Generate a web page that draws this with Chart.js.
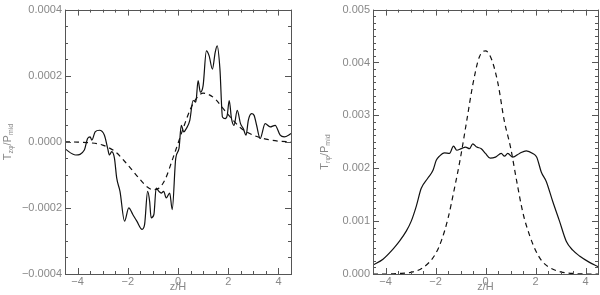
<!DOCTYPE html>
<html>
<head>
<meta charset="utf-8">
<script src="https://cdn.jsdelivr.net/npm/chart.js@4"></script>
<style>
  body { margin: 0; background: #fff; }
  #wrap { position: relative; width: 600px; height: 295px; }
  canvas { position: absolute; top: 0; }
</style>
</head>
<body>
<div id="wrap">
  <canvas id="left" width="300" height="295" style="left:0"></canvas>
  <canvas id="right" width="300" height="295" style="left:300px"></canvas>
</div>
<script>
// left panel: T_zphi / P_mid
const zLeftSolid = [-4.53, -4.07, -3.73, -3.6, -3.5, -3.43, -3.3, -3.13, -2.93, -2.8, -2.73, -2.64, -2.53, -2.44, -2.31, -2.13,
  -1.96, -1.8, -1.64, -1.43, -1.33, -1.21, -1.13, -1.07, -0.96, -0.87, -0.76, -0.67, -0.57, -0.47, -0.33, -0.23, -0.09,
  0.04, 0.13, 0.23, 0.33, 0.47, 0.6, 0.71, 0.8, 0.89, 1.0, 1.13, 1.24, 1.37, 1.48, 1.56, 1.67, 1.77, 1.88, 1.96, 2.04,
  2.13, 2.23, 2.36, 2.49, 2.6, 2.71, 2.8, 2.93, 3.03, 3.13, 3.27, 3.47, 3.67, 3.87, 4.07, 4.23, 4.51];
const leftSolid = [-0.2e-4, -0.4e-4, -0.25e-4, 0.1e-4, 0.15e-4, 0.05e-4, 0.3e-4, 0.35e-4, 0.2e-4, -0.2e-4, -0.4e-4, -0.3e-4,
  -0.5e-4, -1.1e-4, -1.5e-4, -2.4e-4, -2.0e-4, -2.2e-4, -2.4e-4, -2.65e-4, -2.5e-4, -1.5e-4, -1.8e-4, -2.3e-4, -2.2e-4,
  -1.4e-4, -1.5e-4, -1.55e-4, -1.5e-4, -1.7e-4, -1.55e-4, -2.05e-4, -0.5e-4, -0.2e-4, 0.5e-4, 0.3e-4, 0.4e-4, 0.65e-4,
  1.25e-4, 1.2e-4, 1.85e-4, 1.5e-4, 1.7e-4, 2.75e-4, 2.6e-4, 2.2e-4, 2.7e-4, 2.9e-4, 2.2e-4, 0.75e-4, 0.7e-4, 0.8e-4,
  1.25e-4, 0.7e-4, 0.5e-4, 0.95e-4, 0.55e-4, 0.4e-4, 0.2e-4, 0.65e-4, 0.85e-4, 0.8e-4, 0.5e-4, 0.1e-4, 0.55e-4, 0.45e-4,
  0.5e-4, 0.2e-4, 0.15e-4, 0.25e-4];
const zLeftDashed = [-4.5, -4, -3.5, -3, -2.5, -2, -1.5, -1.25, -1, -0.75, -0.5, -0.25, 0, 0.25, 0.5, 0.75, 1, 1.25, 1.5,
  1.75, 2, 2.5, 3, 3.5, 4, 4.5];
const leftDashed = [0, -0.01e-4, -0.03e-4, -0.1e-4, -0.3e-4, -0.7e-4, -1.15e-4, -1.35e-4, -1.45e-4, -1.4e-4, -1.12e-4,
  -0.6e-4, -0.05e-4, 0.5e-4, 1.0e-4, 1.33e-4, 1.47e-4, 1.42e-4, 1.28e-4, 1.05e-4, 0.82e-4, 0.42e-4, 0.2e-4, 0.08e-4,
  0.02e-4, 0];

// right panel: T_rphi / P_mid
const zRightSolid = [-4.5, -4.1, -3.7, -3.44, -3.17, -2.97, -2.77, -2.57, -2.31, -2.1, -1.97, -1.84, -1.64, -1.44, -1.28,
  -1.15, -0.97, -0.8, -0.64, -0.51, -0.35, -0.17, 0, 0.19, 0.4, 0.63, 0.76, 0.89, 1.09, 1.36, 1.63, 1.89, 2.05, 2.23,
  2.43, 2.69, 2.96, 3.23, 3.49, 3.76, 4.16, 4.5];
const rightSolid = [0.17e-3, 0.28e-3, 0.47e-3, 0.62e-3, 0.81e-3, 1.0e-3, 1.28e-3, 1.62e-3, 1.81e-3, 1.96e-3, 2.15e-3,
  2.23e-3, 2.29e-3, 2.28e-3, 2.42e-3, 2.34e-3, 2.37e-3, 2.4e-3, 2.37e-3, 2.46e-3, 2.4e-3, 2.37e-3, 2.28e-3, 2.19e-3,
  2.21e-3, 2.28e-3, 2.23e-3, 2.28e-3, 2.21e-3, 2.28e-3, 2.33e-3, 2.28e-3, 2.21e-3, 1.93e-3, 1.75e-3, 1.37e-3, 1.0e-3,
  0.62e-3, 0.45e-3, 0.34e-3, 0.22e-3, 0.14e-3];
const zRightDashed = [-4.5, -4, -3.5, -3, -2.5, -2, -1.75, -1.5, -1.25, -1, -0.75, -0.5, -0.25, 0, 0.25, 0.5, 0.75, 1,
  1.25, 1.5, 1.75, 2, 2.25, 2.5, 3, 3.5, 4, 4.5];
const rightDashed = [0, 0, 0.01e-3, 0.03e-3, 0.12e-3, 0.38e-3, 0.65e-3, 1.05e-3, 1.6e-3, 2.2e-3, 2.9e-3, 3.6e-3, 4.1e-3,
  4.22e-3, 4.05e-3, 3.6e-3, 2.9e-3, 2.4e-3, 1.75e-3, 1.15e-3, 0.75e-3, 0.45e-3, 0.25e-3, 0.14e-3, 0.04e-3, 0.01e-3, 0, 0];

const xTicks = [-4, -2, 0, 2, 4];
const leftYTicks = [-0.0004, -0.0002, 0, 0.0002, 0.0004];
const rightYTicks = [0, 0.001, 0.002, 0.003, 0.004, 0.005];

const FONT = "'Liberation Sans', Arial, sans-serif";

function pairs(xs, ys) {
  return xs.map((x, i) => ({ x: x, y: ys[i] }));
}

// frame, inward ticks and axis titles, drawn like the original plot
const frameTicks = {
  id: 'frameTicks',
  afterDraw(chart, args, opts) {
    const ctx = chart.ctx;
    const a = chart.chartArea;
    const xs = chart.scales.x, ys = chart.scales.y;
    ctx.save();
    ctx.strokeStyle = '#555';
    ctx.lineWidth = 1;
    ctx.strokeRect(Math.round(a.left) + 0.5, Math.round(a.top) + 0.5,
      Math.round(a.right - a.left), Math.round(a.bottom - a.top));

    const isMajor = (v, step) => Math.abs(v / step - Math.round(v / step)) < 1e-6;
    ctx.beginPath();
    for (let i = Math.ceil(xs.min / opts.xMinor - 1e-6); i * opts.xMinor <= xs.max + 1e-9; i++) {
      const v = i * opts.xMinor;
      const p = Math.round(xs.getPixelForValue(v)) + 0.5;
      const len = isMajor(v, opts.xMajor) ? 6 : 3;
      ctx.moveTo(p, a.bottom); ctx.lineTo(p, a.bottom - len);
      ctx.moveTo(p, a.top); ctx.lineTo(p, a.top + len);
    }
    for (let i = Math.ceil(ys.min / opts.yMinor - 1e-6); i * opts.yMinor <= ys.max + 1e-12; i++) {
      const v = i * opts.yMinor;
      const p = Math.round(ys.getPixelForValue(v)) + 0.5;
      const len = isMajor(v, opts.yMajor) ? 6 : 3;
      ctx.moveTo(a.left, p); ctx.lineTo(a.left + len, p);
      ctx.moveTo(a.right, p); ctx.lineTo(a.right - len, p);
    }
    ctx.stroke();

    // x title
    ctx.fillStyle = '#888';
    ctx.font = '11px ' + FONT;
    ctx.textAlign = 'center';
    ctx.textBaseline = 'middle';
    ctx.fillText('z/H', (a.left + a.right) / 2, 287);

    // y title with subscripts
    ctx.translate(opts.titleX, opts.titleY);
    ctx.rotate(-Math.PI / 2);
    const parts = [['T', 11, 0], [opts.sub, 7, 3], ['/P', 11, 0], ['mid', 7, 3]];
    let w = 0;
    parts.forEach(p => { ctx.font = p[1] + 'px ' + FONT; w += ctx.measureText(p[0]).width; });
    let cx = -w / 2;
    ctx.textAlign = 'left';
    parts.forEach(p => {
      ctx.font = p[1] + 'px ' + FONT;
      ctx.fillText(p[0], cx, p[2]);
      cx += ctx.measureText(p[0]).width;
    });
    ctx.restore();
  }
};

function makeChart(id, solid, dashed, yMin, yMax, yTicks, digits, yWidth, frameOpts) {
  return new Chart(document.getElementById(id), {
    type: 'line',
    data: {
      datasets: [
        { data: solid, borderColor: '#111', borderWidth: 1.2, pointRadius: 0, cubicInterpolationMode: 'monotone' },
        { data: dashed, borderColor: '#111', borderWidth: 1.2, borderDash: [5, 4], pointRadius: 0, cubicInterpolationMode: 'monotone' }
      ]
    },
    options: {
      responsive: false,
      animation: false,
      devicePixelRatio: 1,
      layout: { padding: { left: 0, right: frameOpts.padRight, top: 6, bottom: 0 } },
      plugins: { legend: { display: false }, tooltip: { enabled: false }, frameTicks: frameOpts },
      scales: {
        x: {
          type: 'linear', min: -4.5, max: 4.5,
          grid: { display: false, drawTicks: false },
          border: { display: false },
          afterBuildTicks: s => { s.ticks = xTicks.map(v => ({ value: v })); },
          afterFit: s => { s.height = 21; },
          ticks: {
            autoSkip: false, maxRotation: 0, padding: 1, color: '#888',
            font: { family: FONT, size: 11 },
            callback: v => String(v).replace('-', '\u2212')
          }
        },
        y: {
          type: 'linear', min: yMin, max: yMax,
          grid: { display: false, drawTicks: false },
          border: { display: false },
          afterBuildTicks: s => { s.ticks = yTicks.map(v => ({ value: v })); },
          afterFit: s => { s.width = yWidth; },
          ticks: {
            autoSkip: false, padding: 3, color: '#888',
            font: { family: FONT, size: 11 },
            callback: v => (Math.abs(v) < 1e-12 ? 0 : v).toFixed(digits).replace('-', '\u2212')
          }
        }
      }
    },
    plugins: [frameTicks]
  });
}

makeChart('left', pairs(zLeftSolid, leftSolid), pairs(zLeftDashed, leftDashed), -0.0004, 0.0004, leftYTicks, 4, 65,
  { xMinor: 0.5, xMajor: 2, yMinor: 0.00005, yMajor: 0.0002, sub: 'z\u03C6', titleX: 8, titleY: 142, padRight: 9 });
makeChart('right', pairs(zRightSolid, rightSolid), pairs(zRightDashed, rightDashed), 0, 0.005, rightYTicks, 3, 73,
  { xMinor: 0.5, xMajor: 2, yMinor: 0.000125, yMajor: 0.001, sub: 'r\u03C6', titleX: 25, titleY: 152, padRight: 2 });
</script>
</body>
</html>
